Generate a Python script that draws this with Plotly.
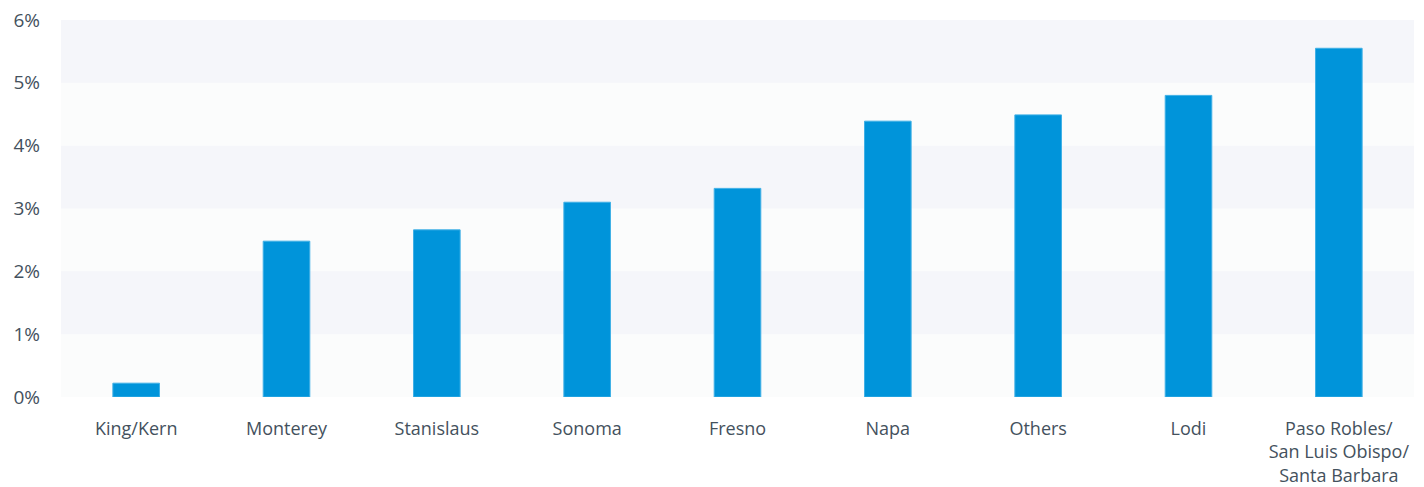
import plotly.graph_objects as go

categories = ["King/Kern", "Monterey", "Stanislaus", "Sonoma", "Fresno", "Napa", "Others", "Lodi",
              "Paso Robles/<br>San Luis Obispo/<br>Santa Barbara"]
values = [0.22, 2.48, 2.66, 3.10, 3.32, 4.39, 4.49, 4.80, 5.55]
y_ticks = [0, 1, 2, 3, 4, 5, 6]
y_tick_labels = ["0%", "1%", "2%", "3%", "4%", "5%", "6%"]
grey_bands = [(1, 2), (3, 4), (5, 6)]

fig = go.Figure()
fig.add_trace(go.Bar(
    x=categories, y=values,
    marker=dict(color="#0094da", line=dict(color="#3fb0e6", width=1)),
    width=0.31,
))

shapes = [dict(type="rect", xref="paper", yref="y", x0=0, x1=1, y0=a, y1=b,
               fillcolor="#f5f6fa", line=dict(width=0), layer="below")
          for a, b in grey_bands]

font = dict(family="Open Sans, Noto Sans, sans-serif", size=18, color="#44515d")
yfont = dict(family="Open Sans, Noto Sans, sans-serif", size=19, color="#44515d")
fig.update_layout(
    width=1424, height=487,
    margin=dict(l=61, r=10, t=20, b=90),
    paper_bgcolor="white", plot_bgcolor="#fbfcfc",
    shapes=shapes, showlegend=False, font=font,
    bargap=0.69,
)
fig.update_xaxes(showgrid=False, zeroline=False, showline=False, ticks="",
                 ticklabelstandoff=19, tickfont=font, automargin=False)
fig.update_yaxes(range=[0, 6], tickvals=y_ticks, ticktext=y_tick_labels,
                 showgrid=False, zeroline=False, showline=False, ticks="",
                 ticklabelstandoff=20, tickfont=yfont, automargin=False)

fig.write_html("out.html", config={"displayModeBar": False},
               post_script="document.body.style.margin='0';document.body.style.overflow='hidden';")
